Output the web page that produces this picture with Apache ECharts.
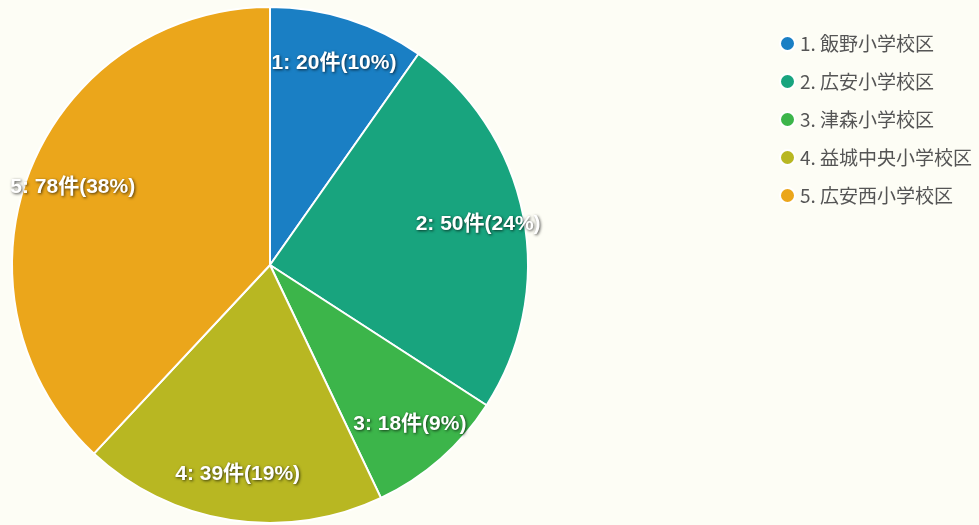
<!DOCTYPE html>
<html>
<head>
<meta charset="utf-8">
<script src="https://cdn.jsdelivr.net/npm/echarts@6/dist/echarts.min.js"></script>
<style>
  html, body { margin: 0; padding: 0; background: #fdfdf5; }
  #chart { width: 979px; height: 525px; }
</style>
</head>
<body>
<div id="chart"></div>
<script>
const districts = ['1. 飯野小学校区', '2. 広安小学校区', '3. 津森小学校区', '4. 益城中央小学校区', '5. 広安西小学校区'];
const counts = [20, 50, 18, 39, 78];
const colors = ['#1a7fc4', '#18a47e', '#3cb54a', '#b8b722', '#eba61b'];

const total = counts.reduce((a, b) => a + b, 0);
const pieData = districts.map((name, i) => ({ name, value: counts[i] }));

const chart = echarts.init(document.getElementById('chart'), null, { renderer: 'canvas' });
chart.setOption({
  backgroundColor: '#fdfdf5',
  color: colors,
  animation: false,
  legend: {
    orient: 'vertical',
    left: 774,
    top: 29,
    icon: 'circle',
    itemWidth: 15,
    itemHeight: 15,
    itemGap: 19,
    textStyle: {
      fontFamily: '"Noto Sans CJK JP", "Noto Sans", sans-serif',
      fontSize: 19,
      color: '#555',
      lineHeight: 15,
    },
    data: districts,
  },
  series: [
    {
      type: 'pie',
      center: [270, 265],
      radius: [0, 258],
      startAngle: 90,
      clockwise: true,
      data: pieData,
      label: { show: false },
      labelLine: { show: false },
      itemStyle: { borderColor: '#ffffff', borderWidth: 2 },
      emphasis: { disabled: true },
    },
    {
      // transparent ring so the inside labels sit near the rim
      type: 'pie',
      center: [270, 265],
      radius: [160, 258],
      startAngle: 90,
      clockwise: true,
      silent: true,
      data: pieData,
      itemStyle: { color: 'rgba(0,0,0,0)' },
      labelLine: { show: false },
      label: {
        show: true,
        position: 'inside',
        formatter: (p) => `${p.dataIndex + 1}: ${p.value}件(${Math.round(p.value / total * 100)}%)`,
        fontFamily: '"Liberation Sans", Arial, "Noto Sans CJK JP", sans-serif',
        fontWeight: 'bold',
        fontSize: 21,
        color: '#ffffff',
        textShadowColor: 'rgba(0,0,0,0.7)',
        textShadowBlur: 3,
        textShadowOffsetX: 1,
        textShadowOffsetY: 1,
      },
      emphasis: { disabled: true },
    },
  ],
});
</script>
</body>
</html>
